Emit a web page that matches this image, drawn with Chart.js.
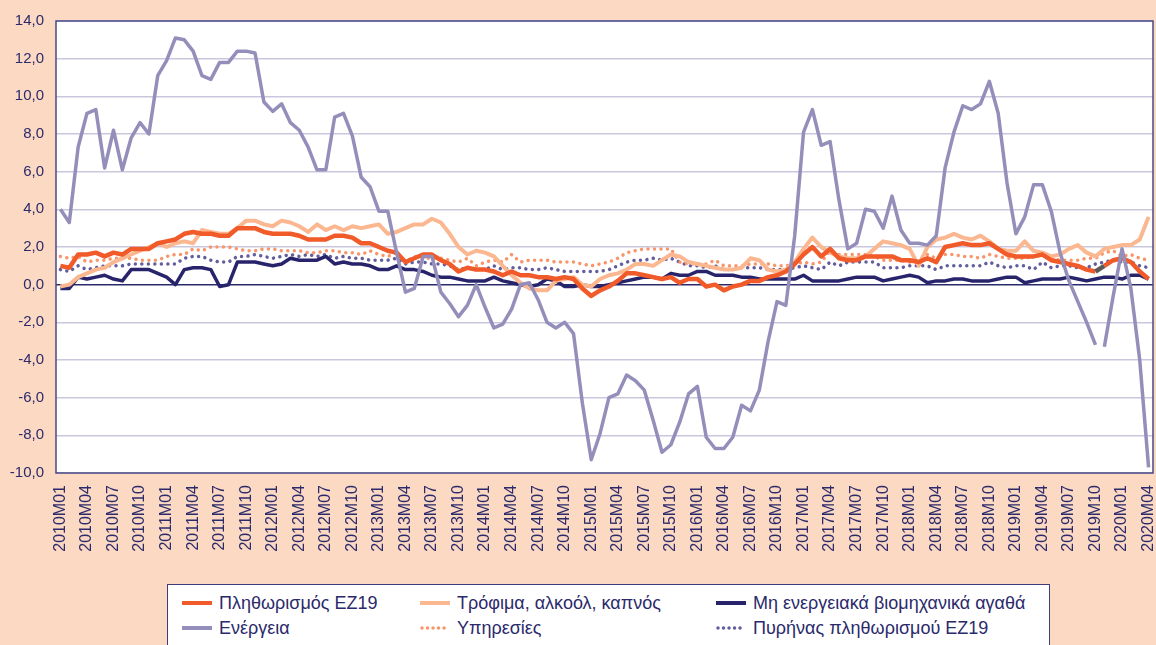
<!DOCTYPE html>
<html lang="el">
<head>
<meta charset="utf-8">
<title>Πληθωρισμός EZ19 και συνιστώσες</title>
<script src="https://cdn.jsdelivr.net/npm/chart.js@4.4.1/dist/chart.umd.min.js"></script>
<style>
  html, body { margin: 0; padding: 0; background: #FCD9C2; }
  #wrap { position: relative; width: 1156px; height: 645px; overflow: hidden; }
  #chart { position: absolute; left: 0; top: 0; }
  #legend {
    position: absolute; left: 167px; top: 584px; width: 883px; height: 80px;
    background: #fff; border: 1.5px solid #3F3D7E; box-sizing: border-box;
    font: 18px 'Liberation Sans', Arial, sans-serif; color: #2B2A6B;
  }
  .item { position: absolute; display: flex; align-items: center; white-space: nowrap; height: 20px; }
  .item svg { margin-right: 7px; }
</style>
</head>
<body>
<div id="wrap">
  <canvas id="chart" width="1156" height="645"></canvas>
  <div id="legend"></div>
</div>
<script>
// months 2010M01 .. 2020M04
const months = [];
for (let y = 2010; y <= 2020; y++) {
  for (let m = 1; m <= 12; m++) {
    if (y === 2020 && m > 4) break;
    months.push(y + 'M' + String(m).padStart(2, '0'));
  }
}

const yTicks = [-10, -8, -6, -4, -2, 0, 2, 4, 6, 8, 10, 12, 14];

// Πληθωρισμός EZ19
const headline = [
  1.0, 0.9, 1.6, 1.6, 1.7, 1.5, 1.7, 1.6, 1.9, 1.9, 1.9, 2.2,
  2.3, 2.4, 2.7, 2.8, 2.7, 2.7, 2.6, 2.6, 3.0, 3.0, 3.0, 2.8,
  2.7, 2.7, 2.7, 2.6, 2.4, 2.4, 2.4, 2.6, 2.6, 2.5, 2.2, 2.2,
  2.0, 1.8, 1.7, 1.2, 1.4, 1.6, 1.6, 1.3, 1.1, 0.7, 0.9, 0.8,
  0.8, 0.7, 0.5, 0.7, 0.5, 0.5, 0.4, 0.4, 0.3, 0.4, 0.3, -0.2,
  -0.6, -0.3, -0.1, 0.2, 0.6, 0.6, 0.5, 0.4, 0.3, 0.4, 0.1, 0.3,
  0.3, -0.1, 0.0, -0.3, -0.1, 0.0, 0.2, 0.2, 0.4, 0.5, 0.7, 1.1,
  1.6, 2.0, 1.5, 1.9, 1.4, 1.3, 1.3, 1.5, 1.5, 1.5, 1.5, 1.3,
  1.3, 1.2, 1.4, 1.2, 2.0, 2.1, 2.2, 2.1, 2.1, 2.2, 1.9, 1.6,
  1.5, 1.5, 1.5, 1.6, 1.3, 1.2, 1.1, 1.0, 0.8, 0.7, 1.0, 1.3,
  1.4, 1.2, 0.7, 0.3
];

// Τρόφιμα, αλκοόλ, καπνός
const food = [
  -0.1, 0.0, 0.4, 0.6, 0.8, 0.9, 1.2, 1.4, 1.6, 1.8, 2.0, 2.2,
  2.0, 2.2, 2.3, 2.2, 2.9, 2.8, 2.7, 2.7, 3.0, 3.4, 3.4, 3.2,
  3.1, 3.4, 3.3, 3.1, 2.8, 3.2, 2.9, 3.1, 2.9, 3.1, 3.0, 3.1,
  3.2, 2.7, 2.8, 3.0, 3.2, 3.2, 3.5, 3.3, 2.7, 2.0, 1.6, 1.8,
  1.7, 1.5, 1.0, 0.5, 0.1, -0.2, -0.3, -0.3, 0.2, 0.3, 0.4, 0.0,
  -0.1, 0.3, 0.5, 0.6, 0.8, 1.1, 1.1, 1.0, 1.3, 1.6, 1.5, 1.2,
  1.1, 1.0, 0.9, 0.8, 0.8, 0.9, 1.4, 1.3, 0.8, 0.7, 0.8, 1.2,
  1.9, 2.5, 2.0, 1.7, 1.5, 1.4, 1.4, 1.5, 1.9, 2.3, 2.2, 2.1,
  1.9, 1.0, 2.0, 2.4, 2.5, 2.7, 2.5, 2.4, 2.6, 2.3, 1.9, 1.8,
  1.8, 2.3, 1.8, 1.7, 1.5, 1.6, 1.9, 2.1, 1.7, 1.5, 1.9, 2.0,
  2.1, 2.1, 2.4, 3.6
];

// Μη ενεργειακά βιομηχανικά αγαθά
const neig = [
  -0.2, -0.2, 0.4, 0.3, 0.4, 0.5, 0.3, 0.2, 0.8, 0.8, 0.8, 0.6,
  0.4, 0.0, 0.8, 0.9, 0.9, 0.8, -0.1, 0.0, 1.2, 1.2, 1.2, 1.1,
  1.0, 1.1, 1.4, 1.3, 1.3, 1.3, 1.5, 1.1, 1.2, 1.1, 1.1, 1.0,
  0.8, 0.8, 1.0, 0.8, 0.8, 0.7, 0.5, 0.4, 0.4, 0.3, 0.2, 0.2,
  0.2, 0.4, 0.2, 0.1, 0.0, -0.1, 0.0, 0.3, 0.2, -0.1, -0.1, 0.0,
  -0.1, -0.1, 0.0, 0.1, 0.2, 0.3, 0.4, 0.4, 0.3, 0.6, 0.5, 0.5,
  0.7, 0.7, 0.5, 0.5, 0.5, 0.4, 0.4, 0.3, 0.3, 0.3, 0.3, 0.3,
  0.5, 0.2, 0.2, 0.2, 0.2, 0.3, 0.4, 0.4, 0.4, 0.2, 0.3, 0.4,
  0.5, 0.4, 0.1, 0.2, 0.2, 0.3, 0.3, 0.2, 0.2, 0.2, 0.3, 0.4,
  0.4, 0.1, 0.2, 0.3, 0.3, 0.3, 0.4, 0.3, 0.2, 0.3, 0.4, 0.4,
  0.3, 0.5, 0.5, 0.3
];

// Ενέργεια
const energy = [
  4.0, 3.3, 7.3, 9.1, 9.3, 6.2, 8.2, 6.1, 7.8, 8.6, 8.0, 11.1,
  11.9, 13.1, 13.0, 12.4, 11.1, 10.9, 11.8, 11.8, 12.4, 12.4, 12.3, 9.7,
  9.2, 9.6, 8.6, 8.2, 7.3, 6.1, 6.1, 8.9, 9.1, 7.9, 5.7, 5.2,
  3.9, 3.9, 1.7, -0.4, -0.2, 1.5, 1.5, -0.4, -1.0, -1.7, -1.1, 0.0,
  -1.2, -2.3, -2.1, -1.3, 0.0, 0.1, -0.8, -2.0, -2.3, -2.0, -2.6, -6.3,
  -9.3, -7.9, -6.0, -5.8, -4.8, -5.1, -5.6, -7.2, -8.9, -8.5, -7.3, -5.8,
  -5.4, -8.1, -8.7, -8.7, -8.1, -6.4, -6.7, -5.6, -3.0, -0.9, -1.1, 2.6,
  8.1, 9.3, 7.4, 7.6, 4.5, 1.9, 2.2, 4.0, 3.9, 3.0, 4.7, 2.9,
  2.2, 2.2, 2.1, 2.6, 6.2, 8.1, 9.5, 9.3, 9.6, 10.8, 9.1, 5.4,
  2.7, 3.6, 5.3, 5.3, 3.9, 1.7, 0.2, -0.9, -2.0, -3.2, -3.3, -0.6,
  1.9, -0.2, -4.0, -9.7
];

// Υπηρεσίες
const services = [
  1.5, 1.4, 1.5, 1.2, 1.3, 1.3, 1.4, 1.4, 1.4, 1.3, 1.3, 1.3,
  1.5, 1.6, 1.6, 1.9, 1.8, 2.0, 2.0, 2.0, 1.9, 1.8, 1.8, 1.9,
  1.9, 1.8, 1.8, 1.8, 1.7, 1.7, 1.8, 1.8, 1.7, 1.7, 1.6, 1.8,
  1.6, 1.5, 1.7, 1.2, 1.5, 1.4, 1.4, 1.4, 1.3, 1.2, 1.4, 1.0,
  1.2, 1.3, 1.2, 1.6, 1.2, 1.3, 1.3, 1.3, 1.2, 1.2, 1.2, 1.1,
  1.0, 1.1, 1.2, 1.4, 1.7, 1.8, 1.9, 1.9, 1.9, 1.9, 1.2, 1.1,
  1.1, 1.1, 1.3, 1.0, 1.0, 1.0, 1.1, 1.1, 1.1, 1.0, 1.0, 1.1,
  1.2, 1.1, 1.2, 1.8, 1.6, 1.6, 1.6, 1.6, 1.5, 1.3, 1.3, 1.3,
  1.2, 1.3, 1.6, 1.4, 1.6, 1.6, 1.5, 1.5, 1.4, 1.6, 1.5, 1.4,
  1.4, 1.4, 1.5, 1.7, 1.4, 1.3, 1.3, 1.3, 1.4, 1.4, 1.7, 1.8,
  1.5, 1.6, 1.4, 1.3
];

// Πυρήνας πληθωρισμού EZ19
const core = [
  0.8, 0.7, 1.0, 0.8, 0.9, 1.0, 1.0, 1.0, 1.1, 1.1, 1.1, 1.1,
  1.1, 1.1, 1.4, 1.5, 1.5, 1.3, 1.2, 1.2, 1.5, 1.5, 1.6, 1.5,
  1.4, 1.5, 1.6, 1.5, 1.6, 1.5, 1.6, 1.4, 1.5, 1.4, 1.4, 1.3,
  1.3, 1.3, 1.4, 1.1, 1.2, 1.2, 1.1, 1.1, 1.0, 0.8, 0.9, 0.8,
  0.8, 1.0, 0.8, 0.9, 0.9, 0.8, 0.8, 0.9, 0.8, 0.7, 0.7, 0.7,
  0.7, 0.7, 0.8, 1.0, 1.2, 1.3, 1.3, 1.4, 1.3, 1.4, 1.2, 1.0,
  1.0, 0.9, 1.0, 0.8, 0.8, 0.9, 0.9, 0.9, 0.8, 0.8, 0.8, 0.9,
  1.0, 0.9, 0.8, 1.2, 1.0, 1.2, 1.2, 1.2, 1.2, 0.9, 0.9, 0.9,
  1.0, 1.0, 1.0, 0.8, 1.0, 1.0, 1.0, 1.0, 1.0, 1.2, 1.0, 0.9,
  1.0, 1.0, 0.8, 1.2, 0.9, 1.0, 1.0, 0.9, 0.9, 1.1, 1.2, 1.3,
  1.2, 1.2, 1.0, 0.9
];

const NAVY = '#2B2A6B';
const FONT = "'Liberation Sans', Arial, sans-serif";
const BREAK_AT = 117; // 2019M10 -> 2019M11, segment drawn differently in the original

const series = [
  { label: 'Ενέργεια', data: energy, color: '#948FBA', width: 3.5, dotted: false, col: 0, row: 1 },
  { label: 'Πληθωρισμός EZ19', data: headline, color: '#F15A29', width: 4.5, dotted: false, col: 0, row: 0 },
  { label: 'Τρόφιμα, αλκοόλ, καπνός', data: food, color: '#FBB790', width: 4, dotted: false, col: 1, row: 0 },
  { label: 'Μη ενεργειακά βιομηχανικά αγαθά', data: neig, color: '#28246B', width: 3.5, dotted: false, col: 2, row: 0 },
  { label: 'Υπηρεσίες', data: services, color: '#F8956A', width: 3.5, dotted: true, col: 1, row: 1 },
  { label: 'Πυρήνας πληθωρισμού EZ19', data: core, color: '#625E9D', width: 3.5, dotted: true, col: 2, row: 1 }
];

function segColor(s) {
  if (s.data === energy) return c => c.p0DataIndex === BREAK_AT ? 'rgba(0,0,0,0)' : undefined;
  if (s.data === headline) return c => c.p0DataIndex === BREAK_AT ? '#5A5A5A' : undefined;
  return undefined;
}

const datasets = series.map(s => ({
  label: s.label,
  data: s.data,
  borderColor: s.color,
  backgroundColor: s.color,
  borderWidth: s.width,
  borderDash: s.dotted ? [0.01, 6.5] : [],
  borderCapStyle: s.dotted ? 'round' : 'butt',
  borderJoinStyle: 'round',
  pointRadius: 0,
  tension: 0,
  fill: false,
  segment: { borderColor: segColor(s) }
}));

const frame = {
  id: 'frame',
  beforeDraw(chart) {
    const { ctx, chartArea: a } = chart;
    ctx.save();
    ctx.fillStyle = '#FCD9C2';
    ctx.fillRect(0, 0, chart.width, chart.height);
    ctx.fillStyle = '#FFFFFF';
    ctx.fillRect(a.left, a.top, a.right - a.left, a.bottom - a.top);
    ctx.restore();
  },
  afterDraw(chart) {
    const { ctx, chartArea: a } = chart;
    ctx.save();
    ctx.strokeStyle = '#4A4886';
    ctx.lineWidth = 1.5;
    ctx.strokeRect(a.left, a.top, a.right - a.left, a.bottom - a.top);
    ctx.restore();
  }
};

new Chart(document.getElementById('chart'), {
  type: 'line',
  data: { labels: months, datasets: datasets },
  options: {
    responsive: false,
    animation: false,
    layout: { padding: { top: 21, right: 3, bottom: 72, left: 0 } },
    plugins: { legend: { display: false }, tooltip: { enabled: false } },
    scales: {
      x: {
        offset: true,
        grid: { display: false, drawTicks: false },
        border: { display: false },
        ticks: {
          autoSkip: false,
          maxRotation: 90,
          minRotation: 90,
          padding: 12,
          color: NAVY,
          font: { family: FONT, size: 16 },
          callback: (v, i) => (i % 3 === 0 ? months[i] : null)
        },
        afterFit(s) { s.height = 100; s.paddingLeft = 0; s.paddingRight = 0; }
      },
      y: {
        min: -10,
        max: 14,
        afterBuildTicks(s) { s.ticks = yTicks.map(v => ({ value: v })); },
        grid: {
          drawTicks: false,
          lineWidth: 1.5,
          color: c => (c.tick && c.tick.value === 0 ? '#2B2A6B' : '#C9C7DE')
        },
        border: { display: false },
        ticks: {
          padding: 12,
          color: NAVY,
          font: { family: FONT, size: 15 },
          callback: v => v.toFixed(1).replace('.', ',')
        },
        afterFit(s) { s.width = 56; s.paddingTop = 0; s.paddingBottom = 0; }
      }
    }
  },
  plugins: [frame]
});

// legend laid out like the original: three columns, two rows
const legend = document.getElementById('legend');
const colX = [14, 252, 548];
const rowY = [8, 33];
series.forEach(s => {
  const el = document.createElement('div');
  el.className = 'item';
  el.style.left = colX[s.col] + 'px';
  el.style.top = rowY[s.row] + 'px';
  const line = s.dotted
    ? `<line x1="2" y1="5" x2="28" y2="5" stroke="${s.color}" stroke-width="3.5" stroke-linecap="round" stroke-dasharray="0.01 5.5"/>`
    : `<line x1="0" y1="5" x2="30" y2="5" stroke="${s.color}" stroke-width="4"/>`;
  el.innerHTML = `<svg width="30" height="10">${line}</svg><span>${s.label}</span>`;
  legend.appendChild(el);
});
</script>
</body>
</html>
